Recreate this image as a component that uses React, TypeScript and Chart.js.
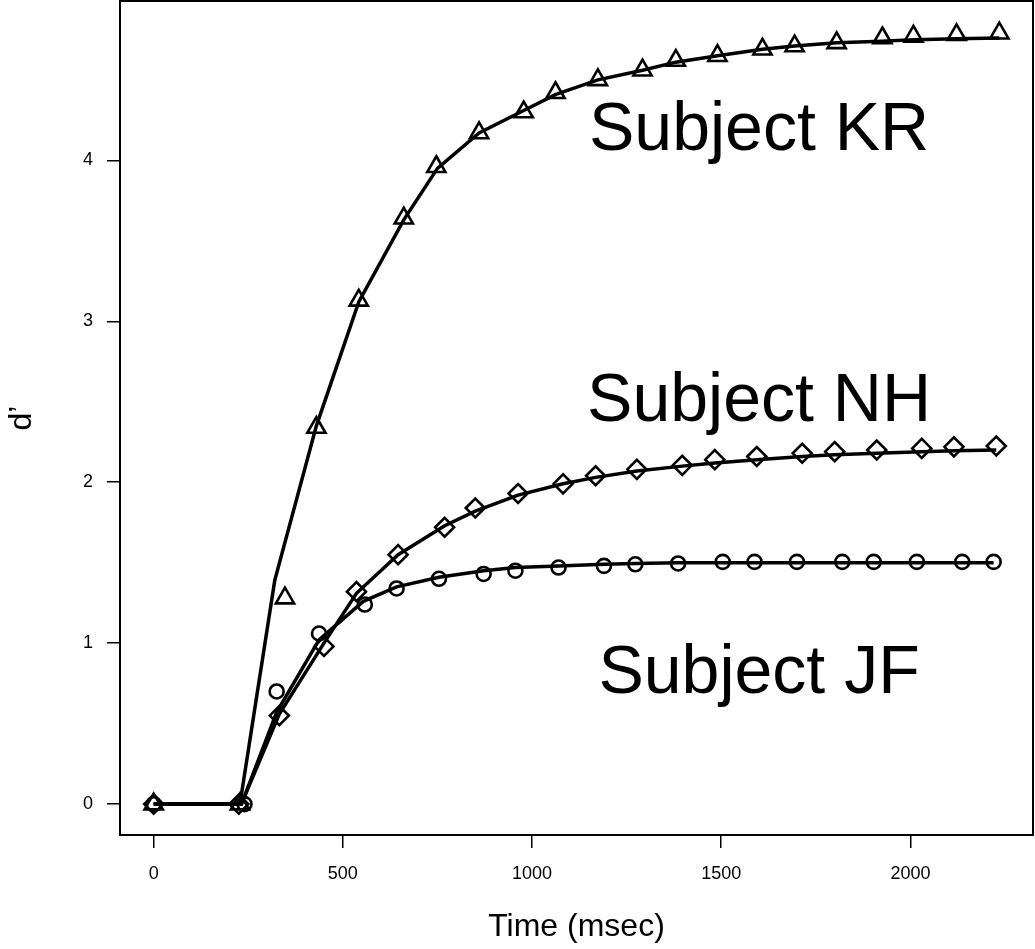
import React, { useEffect, useRef } from "react";
import { Chart, registerables } from "chart.js";

Chart.register(...registerables);

// Axis ticks
const xTicks = [0, 500, 1000, 1500, 2000];
const yTicks = [0, 1, 2, 3, 4];

// Subject KR (triangles)
const krTimes = [0, 228, 347, 430, 542, 661, 747, 860, 978, 1062, 1174, 1292, 1380, 1490, 1609, 1694, 1805, 1926, 2008, 2122, 2235];
const krValues = [0, 0, 1.28, 2.34, 3.13, 3.64, 3.96, 4.17, 4.30, 4.42, 4.50, 4.56, 4.62, 4.65, 4.69, 4.71, 4.73, 4.76, 4.77, 4.78, 4.79];
const krFitTimes = [0, 228, 320, 430, 542, 661, 750, 860, 978, 1063, 1174, 1292, 1380, 1490, 1609, 1694, 1805, 1924, 2011, 2122, 2235];
const krFitValues = [0, 0, 1.39, 2.35, 3.12, 3.63, 3.95, 4.17, 4.31, 4.41, 4.50, 4.56, 4.61, 4.65, 4.69, 4.71, 4.73, 4.74, 4.75, 4.755, 4.76];

// Subject NH (diamonds)
const nhTimes = [0, 225, 332, 450, 536, 646, 769, 850, 963, 1082, 1168, 1277, 1397, 1483, 1594, 1714, 1800, 1911, 2030, 2115, 2227];
const nhValues = [0, 0, 0.55, 0.98, 1.32, 1.55, 1.72, 1.84, 1.93, 1.99, 2.04, 2.08, 2.105, 2.14, 2.16, 2.18, 2.19, 2.20, 2.21, 2.22, 2.225];
const nhFitTimes = [0, 232, 332, 450, 536, 646, 769, 850, 963, 1082, 1168, 1277, 1397, 1483, 1594, 1714, 1800, 1911, 2030, 2115, 2227];
const nhFitValues = [0, 0, 0.56, 1.0, 1.31, 1.55, 1.73, 1.82, 1.92, 1.99, 2.03, 2.07, 2.10, 2.12, 2.14, 2.16, 2.17, 2.18, 2.19, 2.195, 2.20];

// Subject JF (circles)
const jfTimes = [0, 240, 325, 437, 558, 642, 754, 872, 956, 1070, 1190, 1273, 1386, 1504, 1588, 1700, 1820, 1903, 2017, 2137, 2220];
const jfValues = [0, 0, 0.70, 1.06, 1.24, 1.34, 1.40, 1.43, 1.45, 1.47, 1.48, 1.49, 1.495, 1.505, 1.505, 1.505, 1.505, 1.505, 1.505, 1.505, 1.505];
const jfFitTimes = [0, 232, 325, 437, 554, 642, 754, 872, 956, 1070, 1190, 1273, 1386, 1504, 1588, 1700, 1820, 1903, 2017, 2137, 2220];
const jfFitValues = [0, 0, 0.57, 1.02, 1.26, 1.35, 1.41, 1.45, 1.47, 1.48, 1.49, 1.495, 1.50, 1.50, 1.50, 1.50, 1.50, 1.50, 1.50, 1.50, 1.50];

// In-plot labels (centre time, baseline value)
const subjectLabels = ["Subject KR", "Subject NH", "Subject JF"];
const labelTimes = [1600, 1600, 1600];
const labelValues = [4.065, 2.38, 0.69];

const FONT = '"Liberation Sans", Arial, Helvetica, sans-serif';

const zip = (xs: number[], ys: number[]) => xs.map((x, i) => ({ x, y: ys[i] }));

const boxPlugin = {
  id: "boxPlugin",
  afterDraw(chart: any) {
    const { ctx, chartArea } = chart;
    ctx.save();
    ctx.strokeStyle = "#000";
    ctx.lineWidth = 2;
    ctx.strokeRect(chartArea.left, chartArea.top, chartArea.right - chartArea.left, chartArea.bottom - chartArea.top);
    ctx.restore();
  },
};

const labelPlugin = {
  id: "labelPlugin",
  afterDatasetsDraw(chart: any) {
    const { ctx, scales } = chart;
    ctx.save();
    ctx.fillStyle = "#000";
    ctx.font = `68px ${FONT}`;
    ctx.textAlign = "center";
    ctx.textBaseline = "alphabetic";
    subjectLabels.forEach((t, i) => {
      ctx.fillText(t, scales.x.getPixelForValue(labelTimes[i]), scales.y.getPixelForValue(labelValues[i]));
    });
    ctx.restore();
  },
};

const fitLine = (xs: number[], ys: number[]) => ({
  data: zip(xs, ys),
  showLine: true,
  pointRadius: 0,
  borderColor: "#000",
  borderWidth: 3.5,
  fill: false,
  tension: 0,
});

const markers = (xs: number[], ys: number[], style: string, r: number) => ({
  data: zip(xs, ys),
  showLine: false,
  pointStyle: style,
  pointRadius: r,
  borderColor: "#000",
  borderWidth: 2.6,
  backgroundColor: "rgba(0,0,0,0)",
});

export default function App() {
  const ref = useRef<HTMLCanvasElement>(null);

  useEffect(() => {
    if (!ref.current) return;
    const chart = new Chart(ref.current, {
      type: "scatter",
      data: {
        datasets: [
          fitLine(krFitTimes, krFitValues),
          fitLine(nhFitTimes, nhFitValues),
          fitLine(jfFitTimes, jfFitValues),
          markers(krTimes, krValues, "triangle", 10.5),
          markers(nhTimes, nhValues, "rectRot", 9.5),
          markers(jfTimes, jfValues, "circle", 7),
        ] as any,
      },
      options: {
        animation: false,
        responsive: false,
        devicePixelRatio: 1,
        events: [],
        layout: { autoPadding: false, padding: { top: 1, right: 2, left: 0, bottom: 0 } },
        plugins: { legend: { display: false }, tooltip: { enabled: false } },
        scales: {
          x: {
            type: "linear",
            min: -89,
            max: 2324,
            afterBuildTicks: (s: any) => {
              s.ticks = xTicks.map((v) => ({ value: v }));
            },
            afterFit: (s: any) => {
              s.height = 114;
              s.paddingLeft = 0;
              s.paddingRight = 0;
            },
            ticks: {
              font: { family: FONT, size: 18 },
              color: "#000",
              padding: 15,
              maxRotation: 0,
              autoSkip: false,
              callback: (v: any) => String(v),
            },
            grid: { drawOnChartArea: false, tickLength: 13, color: "#000", lineWidth: 1.5 },
            border: { display: false },
            title: {
              display: true,
              text: "Time (msec)",
              color: "#000",
              font: { family: FONT, size: 32 },
              padding: { top: 0, bottom: 3 },
            },
          },
          y: {
            type: "linear",
            min: -0.192,
            max: 4.99,
            afterBuildTicks: (s: any) => {
              s.ticks = yTicks.map((v) => ({ value: v }));
            },
            afterFit: (s: any) => {
              s.width = 120;
              s.paddingTop = 0;
              s.paddingBottom = 0;
            },
            ticks: {
              font: { family: FONT, size: 18 },
              color: "#000",
              padding: 14,
              autoSkip: false,
              callback: (v: any) => String(v),
            },
            grid: { drawOnChartArea: false, tickLength: 13, color: "#000", lineWidth: 1.5 },
            border: { display: false },
            title: {
              display: true,
              text: "d’",
              color: "#000",
              font: { family: FONT, size: 32 },
              padding: { top: 3, bottom: 0 },
            },
          },
        },
      },
      plugins: [boxPlugin, labelPlugin],
    });
    return () => chart.destroy();
  }, []);

  return (
    <div style={{ position: "absolute", left: 0, top: 0, width: 1035, height: 949, background: "#fff" }}>
      <canvas ref={ref} width={1035} height={949} />
    </div>
  );
}
